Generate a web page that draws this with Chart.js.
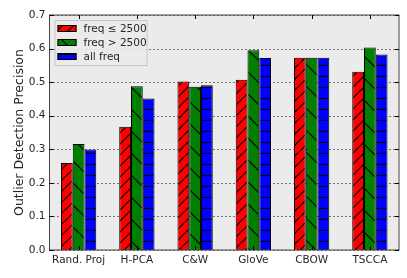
<!DOCTYPE html>
<html>
<head>
<meta charset="utf-8">
<script src="https://cdn.jsdelivr.net/npm/chart.js@4"></script>
<style>
  html, body { margin: 0; padding: 0; background: #fff; }
  #wrap { width: 407px; height: 278px; }
</style>
</head>
<body>
<div id="wrap"><canvas id="chart" width="407" height="278"></canvas></div>
<script>
// data
const categories = ['Rand. Proj', 'H-PCA', 'C&W', 'GloVe', 'CBOW', 'TSCCA'];
const lowFreq = [0.259, 0.367, 0.502, 0.507, 0.573, 0.531];
const highFreq = [0.316, 0.488, 0.486, 0.595, 0.573, 0.603];
const allFreq = [0.299, 0.451, 0.491, 0.572, 0.573, 0.582];
const seriesLabels = ['freq \u2264 2500', 'freq > 2500', 'all freq'];
const yTicks = [0.0, 0.1, 0.2, 0.3, 0.4, 0.5, 0.6, 0.7];

const FONT = 'DejaVu Sans';
const TEXT = '#262626';

// hatch patterns like matplotlib
function makeHatch(color, kind, size) {
    const c = document.createElement('canvas');
    c.width = size; c.height = size;
    const g = c.getContext('2d');
    g.fillStyle = color;
    g.fillRect(0, 0, size, size);
    g.strokeStyle = '#000';
    g.lineWidth = 1.2;
    g.beginPath();
    if (kind === '/') {
        g.moveTo(-1, size + 1); g.lineTo(size + 1, -1);
        g.moveTo(-1, 1); g.lineTo(1, -1);
        g.moveTo(size - 1, size + 1); g.lineTo(size + 1, size - 1);
    } else if (kind === '\\') {
        g.moveTo(-1, -1); g.lineTo(size + 1, size + 1);
        g.moveTo(size - 1, -1); g.lineTo(size + 1, 1);
        g.moveTo(-1, size - 1); g.lineTo(1, size + 1);
    } else {
        g.moveTo(0, size - 0.5); g.lineTo(size, size - 0.5);
    }
    g.stroke();
    return g.createPattern(c, 'repeat');
}

const ctx = document.getElementById('chart').getContext('2d');
const fills = [
    makeHatch('#ff0000', '/', 11),
    makeHatch('#008000', '\\', 22),
    makeHatch('#0000ff', '-', 11)
];

// grey plot background, dotted grid, frame and inside ticks
const frame = {
    id: 'frame',
    beforeDatasetsDraw(chart) {
        const a = chart.chartArea, c = chart.ctx, ys = chart.scales.y;
        c.save();
        c.fillStyle = '#ebebeb';
        c.fillRect(a.left, a.top, a.right - a.left, a.bottom - a.top);
        c.strokeStyle = '#000';
        c.lineWidth = 1;
        c.setLineDash([1, 3]);
        c.beginPath();
        yTicks.forEach(v => {
            const y = Math.round(ys.getPixelForValue(v)) + 0.5;
            c.moveTo(a.left, y); c.lineTo(a.right, y);
        });
        c.stroke();
        c.restore();
    },
    afterDatasetsDraw(chart) {
        const a = chart.chartArea, c = chart.ctx;
        const xs = chart.scales.x, ys = chart.scales.y;
        c.save();
        c.strokeStyle = '#444';
        c.lineWidth = 1;
        c.strokeRect(a.left, a.top, a.right - a.left, a.bottom - a.top);
        c.strokeStyle = '#000';
        c.beginPath();
        categories.forEach((_, i) => {
            const x = Math.round(xs.getPixelForValue(i)) + 0.5;
            c.moveTo(x, a.top); c.lineTo(x, a.top + 4);
            c.moveTo(x, a.bottom); c.lineTo(x, a.bottom - 4);
        });
        yTicks.forEach(v => {
            const y = Math.round(ys.getPixelForValue(v)) + 0.5;
            c.moveTo(a.left, y); c.lineTo(a.left + 4, y);
            c.moveTo(a.right, y); c.lineTo(a.right - 4, y);
        });
        c.stroke();
        c.restore();
    },
    afterDraw(chart) {
        // legend box in upper left of the plot
        const a = chart.chartArea, c = chart.ctx;
        const x0 = a.left + 5, y0 = a.top + 5;
        c.save();
        c.fillStyle = 'rgba(235,235,235,0.9)';
        c.fillRect(x0 + 0.5, y0 + 0.5, 92, 45);
        c.strokeStyle = '#c8c8c8';
        c.lineWidth = 1;
        c.strokeRect(x0 + 0.5, y0 + 0.5, 92, 45);
        c.font = '10.5px "' + FONT + '"';
        c.textBaseline = 'middle';
        seriesLabels.forEach((lab, i) => {
            const cy = y0 + 8 + i * 14;
            c.fillStyle = fills[i];
            c.fillRect(x0 + 3, cy - 3, 19, 7);
            c.strokeStyle = '#000';
            c.strokeRect(x0 + 3.5, cy - 2.5, 18, 6);
            c.fillStyle = TEXT;
            c.fillText(lab, x0 + 29, cy + 1);
        });
        c.restore();
    }
};

const chart = new Chart(ctx, {
    type: 'bar',
    data: {
        labels: categories,
        datasets: [lowFreq, highFreq, allFreq].map((d, i) => ({
            label: seriesLabels[i],
            data: d,
            backgroundColor: fills[i],
            borderColor: '#000',
            borderWidth: 1,
            borderSkipped: 'bottom',
            categoryPercentage: 0.606,
            barPercentage: 1.0
        }))
    },
    options: {
        responsive: false,
        animation: false,
        layout: { padding: { top: 15, right: 8, left: 0, bottom: 0 } },
        plugins: {
            legend: { display: false },
            tooltip: { enabled: false }
        },
        scales: {
            x: {
                offset: true,
                grid: { display: false, drawTicks: false },
                border: { display: false },
                ticks: { color: TEXT, font: { family: FONT, size: 10.5 }, padding: 4, maxRotation: 0 },
                afterFit(s) { s.height = 28; }
            },
            y: {
                min: 0,
                max: 0.7,
                afterBuildTicks(s) { s.ticks = yTicks.map(v => ({ value: v })); },
                grid: { display: false, drawTicks: false },
                border: { display: false },
                ticks: {
                    color: TEXT,
                    font: { family: FONT, size: 10.5 },
                    padding: 4,
                    callback: v => v.toFixed(1)
                },
                title: {
                    display: true,
                    text: 'Outlier Detection Precision',
                    color: TEXT,
                    font: { family: FONT, size: 12.5 },
                    padding: { top: 12, bottom: 0 }
                },
                afterFit(s) { s.width = 49.5; }
            }
        }
    },
    plugins: [frame]
});
</script>
</body>
</html>
